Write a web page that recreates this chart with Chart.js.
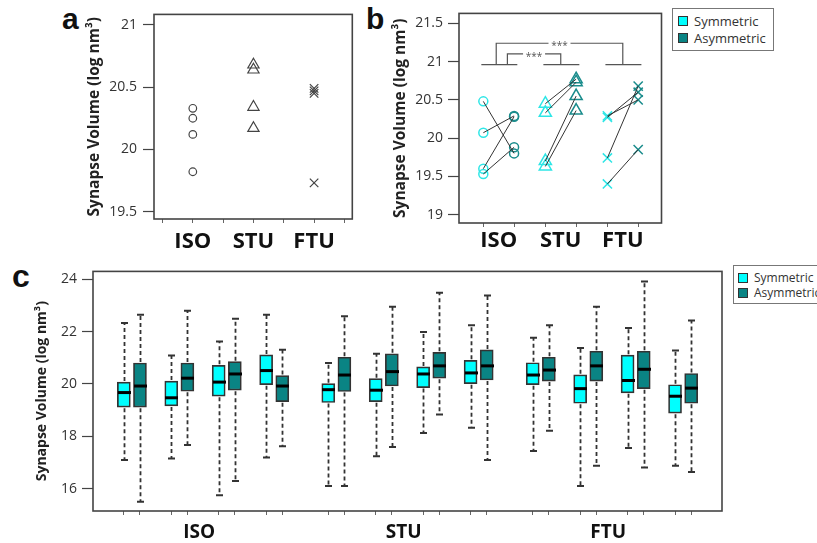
<!DOCTYPE html>
<html>
<head>
<meta charset="utf-8">
<script src="https://cdn.jsdelivr.net/npm/chart.js@4.4.0/dist/chart.umd.min.js"></script>
<style>
html, body { margin: 0; padding: 0; background: #fff; }
body { width: 817px; height: 543px; position: relative; overflow: hidden; font-family: "Open Sans", sans-serif; }
canvas { position: absolute; }
.letter { position: absolute; font: bold 30px "Liberation Sans", Arial, sans-serif; line-height: 1; color: #111; }
.legend { position: absolute; border: 1px solid #777; background: #fff; color: #333; box-sizing: border-box; white-space: nowrap; }
.legend .row { position: absolute; display: flex; align-items: center; }
.legend .sw { display: inline-block; width: 9px; height: 9px; border: 1px solid #333; margin-right: 6px; }
</style>
</head>
<body>
<div class="letter" style="left:62px;top:4px">a</div>
<div class="letter" style="left:366px;top:4px">b</div>
<div class="letter" style="left:12px;top:260px;font-size:32px">c</div>

<canvas id="chartA" width="300" height="262" style="left:60px;top:0px;width:300px;height:262px"></canvas>
<canvas id="chartB" width="300" height="262" style="left:370px;top:0px;width:300px;height:262px"></canvas>
<canvas id="chartC" width="817" height="285" style="left:0px;top:258px;width:817px;height:285px"></canvas>

<div id="legendB" class="legend" style="left:672px;top:8px;width:102px;height:43px;font-size:13px"></div>
<div id="legendC" class="legend" style="left:733px;top:265px;width:100px;height:39px;font-size:12px"></div>

<script>
const FONT = "Open Sans";
const groups = ["ISO", "STU", "FTU"];
const seriesNames = ["Symmetric", "Asymmetric"];
const seriesColors = ["#00ffff", "#0a8484"];
const markerColors = ["#2ee6e6", "#1a8c8c"];
const yTitle = "Synapse Volume (log nm³)";

// panel a: mittelwerte je tier
const isoA = [20.33, 20.25, 20.12, 19.82];
const stuA = [20.68, 20.64, 20.34, 20.17];
const ftuA = [20.49, 20.47, 20.45, 19.73];
const yTicksA = [19.5, 20, 20.5, 21];

// panel b: symmetrisch vs asymmetrisch, gepaart
const isoSymB  = [20.48, 20.07, 19.60, 19.53];
const isoAsymB = [19.80, 20.29, 20.28, 19.88];
const stuSymB  = [20.45, 20.33, 19.70, 19.63];
const stuAsymB = [20.77, 20.73, 20.55, 20.36];
const ftuSymB  = [20.29, 20.27, 19.74, 19.40];
const ftuAsymB = [20.50, 20.60, 20.68, 19.85];
const yTicksB = [19, 19.5, 20, 20.5, 21, 21.5];
const sigLabel = "***";

// panel c: boxplots, 4 tiere je gruppe
const symMax  = [22.33, 21.09, 21.62, 22.64, 20.80, 21.15, 21.98, 22.24, 21.76, 21.37, 22.14, 21.28];
const symQ3   = [20.07, 20.11, 20.71, 21.11, 20.01, 20.20, 20.65, 20.90, 20.81, 20.35, 21.10, 19.97];
const symMed  = [19.67, 19.47, 20.07, 20.51, 19.78, 19.76, 20.38, 20.42, 20.34, 19.82, 20.13, 19.53];
const symQ1   = [19.11, 19.16, 19.53, 19.97, 19.29, 19.32, 19.86, 20.01, 19.97, 19.26, 19.66, 18.88];
const symMin  = [17.09, 17.15, 15.75, 17.19, 16.10, 17.24, 18.12, 18.33, 17.44, 16.10, 17.55, 16.87];
const asymMax = [22.64, 22.80, 22.49, 21.31, 22.59, 22.95, 23.48, 23.38, 22.24, 22.95, 23.91, 22.42];
const asymQ3  = [20.80, 20.80, 20.85, 20.32, 21.02, 21.15, 21.21, 21.30, 21.02, 21.25, 21.25, 20.40];
const asymMed = [19.92, 20.22, 20.38, 19.92, 20.34, 20.47, 20.69, 20.69, 20.53, 20.69, 20.56, 19.84];
const asymQ1  = [19.11, 19.72, 19.76, 19.32, 19.71, 19.92, 20.22, 20.15, 20.11, 20.11, 19.82, 19.26];
const asymMin = [15.50, 17.67, 16.29, 17.62, 16.10, 17.59, 18.83, 17.09, 18.21, 16.87, 16.81, 16.63];
const yTicksC = [16, 18, 20, 22, 24];

// layout
const PAIR_OFF_B = 0.248;
const PAIR_OFF_C = 0.17;
const GROUP_STEP_C = 4.31;
const PER_GROUP = 4;

// rahmen um die plotflaeche
const framePlugin = {
  id: 'frame',
  afterDraw(chart) {
    const { ctx, chartArea: a } = chart;
    ctx.save();
    ctx.strokeStyle = '#444';
    ctx.lineWidth = 1.6;
    ctx.strokeRect(a.left, a.top, a.right - a.left, a.bottom - a.top);
    ctx.restore();
  }
};

function yAxis(min, max, ticks, width, titleSize, titlePad, tickPad) {
  return {
    type: 'linear', min: min, max: max,
    afterBuildTicks: s => { s.ticks = ticks.map(v => ({ value: v })); },
    afterFit: s => { s.width = width; },
    grid: { drawOnChartArea: false, tickLength: 11, tickColor: '#444', tickWidth: 1.2 },
    border: { display: false },
    ticks: { color: '#333', font: { family: FONT, size: 14 }, padding: tickPad, callback: v => String(v) },
    title: {
      display: true, text: yTitle, color: '#222',
      font: { family: FONT, size: titleSize, weight: 'bold' },
      padding: { top: titlePad, bottom: 0 }
    }
  };
}

// ticks: {value, label, mark}
function xAxis(min, max, entries, height, fontSize, pad) {
  entries.sort((p, q) => p.value - q.value);
  return {
    type: 'linear', min: min, max: max, offset: false,
    afterBuildTicks: s => { s.ticks = entries.map(e => ({ value: e.value })); },
    afterFit: s => { s.height = height; },
    grid: {
      offset: false, drawOnChartArea: false, tickLength: 4, tickWidth: 1,
      tickColor: c => (entries[c.index] && entries[c.index].mark) ? '#666' : 'rgba(0,0,0,0)'
    },
    border: { display: false },
    ticks: {
      autoSkip: false, maxRotation: 0, padding: pad, color: '#111',
      font: { family: FONT, size: fontSize, weight: 'bold' },
      callback: (v, i) => entries[i] ? entries[i].label : ''
    }
  };
}

const baseOpts = {
  responsive: false, animation: false, devicePixelRatio: 1,
  plugins: { legend: { display: false }, tooltip: { enabled: false } }
};

// ---------------- panel a ----------------
const styleA = ['circle', 'triangle', 'crossRot'];
const radA = [3.8, 6.5, 6];
const dataA = [isoA, stuA, ftuA];
const ticksA = [];
[0.5, 1.5, 2.5, 3.5].forEach(v => ticksA.push({ value: v, label: '', mark: true }));
groups.forEach((g, i) => ticksA.push({ value: i + 1, label: g, mark: true }));

new Chart(document.getElementById('chartA'), {
  type: 'scatter',
  data: {
    datasets: dataA.map((vals, g) => ({
      data: vals.map(v => ({ x: g + 1, y: v })),
      pointStyle: styleA[g], pointRadius: radA[g],
      pointBorderColor: '#444', pointBackgroundColor: 'rgba(0,0,0,0)', pointBorderWidth: 1.2
    }))
  },
  options: Object.assign({}, baseOpts, {
    layout: { padding: { top: 6, right: 7, left: 0, bottom: 0 } },
    scales: {
      x: xAxis(0.36, 3.63, ticksA, 43, 22, 6),
      y: yAxis(19.44, 21.085, yTicksA, 94, 15.5, 25.7, 6)
    }
  }),
  plugins: [framePlugin]
});

// ---------------- panel b ----------------
const symB = [isoSymB, stuSymB, ftuSymB];
const asymB = [isoAsymB, stuAsymB, ftuAsymB];
const styleB = ['circle', 'triangle', 'crossRot'];
const radB = [4.5, 7, 6.5];
const dsB = [];
groups.forEach((g, gi) => {
  const xs = gi + 1 - PAIR_OFF_B, xa = gi + 1 + PAIR_OFF_B;
  symB[gi].forEach((v, k) => {
    dsB.push({
      data: [{ x: xs, y: v }, { x: xa, y: asymB[gi][k] }],
      showLine: true, borderColor: '#333', borderWidth: 1, pointRadius: 0, order: 0
    });
  });
  [symB[gi], asymB[gi]].forEach((vals, si) => {
    dsB.push({
      data: vals.map(v => ({ x: si === 0 ? xs : xa, y: v })),
      pointStyle: styleB[gi], pointRadius: radB[gi],
      pointBorderColor: markerColors[si], pointBackgroundColor: 'rgba(0,0,0,0)',
      pointBorderWidth: 1.5, order: 1
    });
  });
});
const ticksB = [];
groups.forEach((g, i) => {
  ticksB.push({ value: i + 1 - PAIR_OFF_B, label: '', mark: true });
  ticksB.push({ value: i + 1, label: g, mark: false });
  ticksB.push({ value: i + 1 + PAIR_OFF_B, label: '', mark: true });
});

// signifikanz-klammern: ISO-STU und ISO-FTU
const bracketBase = 20.96;
const bracketLinks = [
  { x1: 1.14, x2: 2.0, level: 21.10 },
  { x1: 0.96, x2: 3.0, level: 21.24 }
];
const bracketPlugin = {
  id: 'brackets',
  afterDatasetsDraw(chart) {
    const { ctx, scales: { x, y } } = chart;
    ctx.save();
    ctx.strokeStyle = '#555';
    ctx.lineWidth = 1.2;
    const yb = y.getPixelForValue(bracketBase);
    ctx.beginPath();
    groups.forEach((g, i) => {
      ctx.moveTo(x.getPixelForValue(i + 1.01 - 0.29), yb);
      ctx.lineTo(x.getPixelForValue(i + 1.01 + 0.29), yb);
    });
    bracketLinks.forEach(b => {
      const p1 = x.getPixelForValue(b.x1), p2 = x.getPixelForValue(b.x2);
      const yl = y.getPixelForValue(b.level), mid = (p1 + p2) / 2;
      ctx.moveTo(p1, yb); ctx.lineTo(p1, yl); ctx.lineTo(mid - 11, yl);
      ctx.moveTo(mid + 11, yl); ctx.lineTo(p2, yl); ctx.lineTo(p2, yb);
    });
    ctx.stroke();
    ctx.fillStyle = '#555';
    ctx.font = '10px "' + FONT + '"';
    ctx.textAlign = 'center';
    ctx.textBaseline = 'alphabetic';
    bracketLinks.forEach(b => {
      const mid = (x.getPixelForValue(b.x1) + x.getPixelForValue(b.x2)) / 2;
      ctx.fillText(sigLabel, mid, y.getPixelForValue(b.level) + 6);
    });
    ctx.restore();
  }
};

new Chart(document.getElementById('chartB'), {
  type: 'scatter',
  data: { datasets: dsB },
  options: Object.assign({}, baseOpts, {
    layout: { padding: { top: 7, right: 7, left: 0, bottom: 0 } },
    scales: {
      x: xAxis(0.36, 3.624, ticksB, 39, 22, 1),
      y: yAxis(18.89, 21.63, yTicksB, 89, 15.5, 21.7, 5)
    }
  }),
  plugins: [framePlugin, bracketPlugin]
});

// ---------------- panel c ----------------
function slotX(i) {
  return Math.floor(i / PER_GROUP) * GROUP_STEP_C + (i % PER_GROUP);
}
const statsC = [
  { min: symMin, q1: symQ1, med: symMed, q3: symQ3, max: symMax, off: -PAIR_OFF_C },
  { min: asymMin, q1: asymQ1, med: asymMed, q3: asymQ3, max: asymMax, off: PAIR_OFF_C }
];
const dsC = statsC.map((st, si) => ({
  label: seriesNames[si],
  data: st.q1.map((q, i) => ({ x: slotX(i) + st.off, y: [q, st.q3[i]] })),
  backgroundColor: seriesColors[si],
  borderColor: '#333', borderWidth: 1.7, borderSkipped: false,
  barThickness: 13, grouped: false
}));
const ticksC = [];
symMed.forEach((_, i) => {
  ticksC.push({ value: slotX(i) - PAIR_OFF_C, label: '', mark: true });
  ticksC.push({ value: slotX(i) + PAIR_OFF_C, label: '', mark: true });
});
groups.forEach((g, gi) => ticksC.push({ value: gi * GROUP_STEP_C + (PER_GROUP - 1) / 2 - 0.08, label: g, mark: false }));

const whiskerPlugin = {
  id: 'whiskers',
  afterDatasetsDraw(chart) {
    const { ctx, scales: { x, y } } = chart;
    ctx.save();
    ctx.strokeStyle = '#333';
    statsC.forEach(st => {
      st.med.forEach((m, i) => {
        const px = Math.round(x.getPixelForValue(slotX(i) + st.off)) + 0.5;
        const yMax = y.getPixelForValue(st.max[i]), yQ3 = y.getPixelForValue(st.q3[i]);
        const yQ1 = y.getPixelForValue(st.q1[i]), yMin = y.getPixelForValue(st.min[i]);
        ctx.lineWidth = 1.8;
        ctx.setLineDash([4, 3]);
        ctx.beginPath();
        ctx.moveTo(px, yQ3 - 1); ctx.lineTo(px, yMax);
        ctx.moveTo(px, yQ1 + 1); ctx.lineTo(px, yMin);
        ctx.stroke();
        ctx.setLineDash([]);
        ctx.lineWidth = 2;
        ctx.beginPath();
        ctx.moveTo(px - 3.5, yMax); ctx.lineTo(px + 3.5, yMax);
        ctx.moveTo(px - 3.5, yMin); ctx.lineTo(px + 3.5, yMin);
        ctx.stroke();
        ctx.strokeStyle = '#000';
        ctx.lineWidth = 3;
        ctx.beginPath();
        const ym = y.getPixelForValue(m);
        ctx.moveTo(px - 6.5, ym); ctx.lineTo(px + 6.5, ym);
        ctx.stroke();
        ctx.strokeStyle = '#333';
      });
    });
    ctx.restore();
  }
};

new Chart(document.getElementById('chartC'), {
  type: 'bar',
  data: { datasets: dsC },
  options: Object.assign({}, baseOpts, {
    layout: { padding: { top: 7, right: 95, left: 0, bottom: 0 } },
    scales: {
      x: xAxis(-0.82, 2 * GROUP_STEP_C + 3.82, ticksC, 32, 19, 6.5),
      y: yAxis(15.144, 24.3, yTicksC, 93, 14, 33.6, 5)
    }
  }),
  plugins: [framePlugin, whiskerPlugin]
});

// html-legenden
function buildLegend(id, sw, rowTops, left) {
  const el = document.getElementById(id);
  seriesNames.forEach((n, i) => {
    const row = document.createElement('div');
    row.className = 'row';
    row.style.left = left + 'px';
    row.style.top = rowTops[i] + 'px';
    row.innerHTML = '<span class="sw" style="background:' + seriesColors[i] + ';width:' + sw + 'px;height:' + sw + 'px"></span>' + n;
    el.appendChild(row);
  });
}
buildLegend('legendB', 8, [3, 20], 5);
buildLegend('legendC', 8, [3, 18], 4);
</script>
</body>
</html>
